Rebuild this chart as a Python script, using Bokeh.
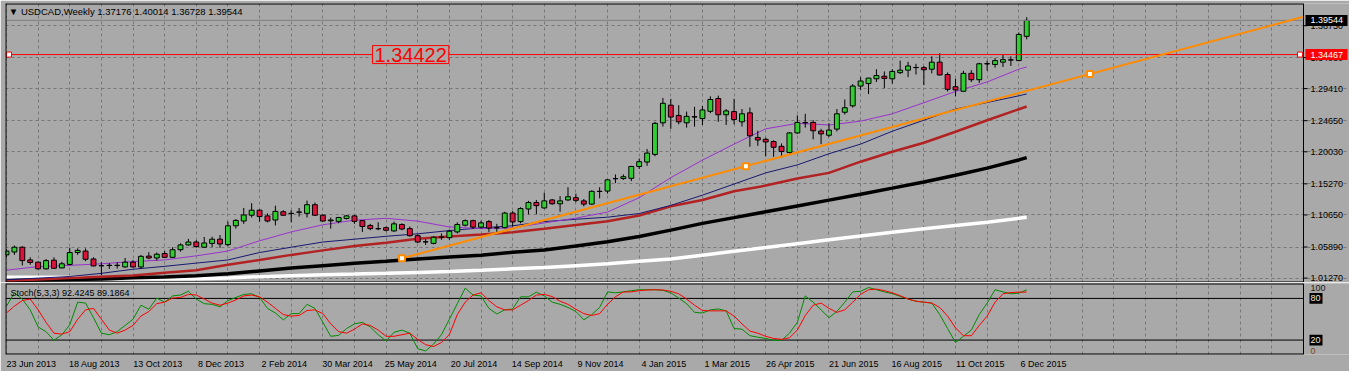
from bokeh.plotting import figure
from bokeh.models import Range1d, FixedTicker, Label, ColumnDataSource
from bokeh.layouts import column
from bokeh.embed import file_html
from bokeh.resources import INLINE
from bokeh.core.properties import value

# ---------------- data ----------------
opens = [1.0472,1.0515,1.0586,1.0397,1.0364,1.0265,1.0393,1.0279,1.0330,1.0507,
         1.0529,1.0411,1.0310,1.0314,1.0318,1.0293,1.0364,1.0293,1.0454,1.0426,
         1.0492,1.0436,1.0549,1.0620,1.0663,1.0586,1.0643,1.0705,1.0624,1.0904,
         1.0975,1.1061,1.1136,1.1051,1.0990,1.1112,1.1087,1.1106,1.1089,1.1217,
         1.1061,1.0978,1.0970,1.1012,1.1051,1.0980,1.0909,1.0860,1.0876,1.0828,
         1.0923,1.0862,1.0757,1.0665,1.0643,1.0734,1.0728,1.0813,1.0913,1.0980,
         1.0884,1.0966,1.0872,1.0876,1.1093,1.0966,1.1154,1.1250,1.1169,1.1288,
         1.1231,1.1288,1.1321,1.1274,1.1226,1.1414,1.1420,1.1603,1.1605,1.1609,
         1.1785,1.1851,1.1964,1.2433,1.2695,1.2543,1.2433,1.2524,1.2496,1.2604,
         1.2794,1.2553,1.2600,1.2448,1.2581,1.2216,1.2188,1.2155,1.2084,1.1993,
         1.2283,1.2437,1.2439,1.2311,1.2249,1.2340,1.2590,1.2685,1.2979,1.3016,
         1.3087,1.3125,1.3087,1.3178,1.3215,1.3255,1.3253,1.3229,1.3334,1.3150,
         1.2969,1.2902,1.3168,1.3073,1.3308,1.3300,1.3334,1.3369,1.3357,1.37176]
highs = [1.0553,1.0610,1.0600,1.0436,1.0373,1.0411,1.0436,1.0369,1.0578,1.0568,
         1.0568,1.0436,1.0364,1.0350,1.0364,1.0426,1.0397,1.0472,1.0511,1.0507,
         1.0529,1.0586,1.0643,1.0710,1.0691,1.0738,1.0742,1.0767,1.0966,1.1004,
         1.1169,1.1240,1.1146,1.1089,1.1203,1.1136,1.1136,1.1169,1.1278,1.1250,
         1.1075,1.1027,1.1037,1.1065,1.1065,1.0990,1.0933,1.0956,1.0894,1.0966,
         1.0941,1.0894,1.0777,1.0705,1.0752,1.0791,1.0848,1.0956,1.0998,1.0994,
         1.0980,1.0990,1.0933,1.1112,1.1122,1.1179,1.1274,1.1288,1.1396,1.1302,
         1.1345,1.1477,1.1382,1.1302,1.1430,1.1477,1.1595,1.1666,1.1666,1.1794,
         1.1903,1.2045,1.2448,1.2803,1.2789,1.2695,1.2600,1.2671,1.2685,1.2827,
         1.2837,1.2638,1.2789,1.2638,1.2661,1.2315,1.2212,1.2173,1.2127,1.2297,
         1.2543,1.2567,1.2472,1.2344,1.2425,1.2638,1.2780,1.3008,1.3111,1.3101,
         1.3229,1.3196,1.3229,1.3357,1.3339,1.3310,1.3277,1.3420,1.3466,1.3182,
         1.3087,1.3206,1.3215,1.3324,1.3357,1.3395,1.3442,1.3420,1.3775,1.40014]
lows = [1.0440,1.0472,1.0316,1.0326,1.0255,1.0255,1.0269,1.0273,1.0316,1.0472,
        1.0379,1.0302,1.0174,1.0265,1.0269,1.0283,1.0283,1.0265,1.0407,1.0387,
        1.0426,1.0426,1.0521,1.0610,1.0578,1.0578,1.0586,1.0578,1.0600,1.0862,
        1.0933,1.1027,1.0966,1.0956,1.0909,1.1051,1.0956,1.1041,1.1027,1.1051,
        1.0966,1.0862,1.0941,1.0998,1.0933,1.0813,1.0838,1.0838,1.0819,1.0813,
        1.0838,1.0742,1.0649,1.0620,1.0629,1.0696,1.0696,1.0791,1.0894,1.0856,
        1.0862,1.0813,1.0809,1.0866,1.0894,1.0941,1.1075,1.1075,1.1160,1.1217,
        1.1112,1.1274,1.1254,1.1193,1.1217,1.1311,1.1382,1.1538,1.1586,1.1567,
        1.1747,1.1794,1.1936,1.2377,1.2344,1.2411,1.2362,1.2377,1.2401,1.2576,
        1.2448,1.2401,1.2411,1.2377,1.2078,1.2092,1.1936,1.1928,1.1918,1.1974,
        1.2269,1.2362,1.2188,1.2117,1.2220,1.2306,1.2557,1.2661,1.2922,1.2860,
        1.3040,1.2945,1.3016,1.3158,1.3111,1.3150,1.2993,1.3168,1.3135,1.2898,
        1.2827,1.2898,1.3040,1.3026,1.3206,1.3253,1.3263,1.3277,1.3349,1.36728]
closes = [1.0529,1.0586,1.0387,1.0359,1.0265,1.0387,1.0273,1.0340,1.0507,1.0539,
          1.0407,1.0308,1.0312,1.0318,1.0314,1.0364,1.0293,1.0450,1.0426,1.0482,
          1.0436,1.0549,1.0620,1.0663,1.0596,1.0649,1.0705,1.0634,1.0904,1.0984,
          1.1065,1.1136,1.1041,1.0975,1.1118,1.1061,1.1089,1.1108,1.1217,1.1061,
          1.0975,1.0990,1.1027,1.1051,1.0970,1.0894,1.0862,1.0862,1.0838,1.0933,
          1.0856,1.0757,1.0663,1.0667,1.0734,1.0736,1.0823,1.0923,1.0980,1.0884,
          1.0947,1.0870,1.0876,1.1093,1.0961,1.1160,1.1250,1.1203,1.1274,1.1231,
          1.1274,1.1335,1.1282,1.1226,1.1416,1.1416,1.1586,1.1605,1.1633,1.1785,
          1.1856,1.1984,1.2425,1.2723,1.2519,1.2448,1.2529,1.2519,1.2624,1.2780,
          1.2553,1.2610,1.2482,1.2567,1.2240,1.2178,1.2149,1.2070,1.2007,1.2283,
          1.2439,1.2433,1.2315,1.2269,1.2325,1.2567,1.2657,1.2979,1.3054,1.3097,
          1.3135,1.3093,1.3196,1.3215,1.3277,1.3253,1.3221,1.3334,1.3144,1.2931,
          1.2922,1.3168,1.3073,1.3310,1.3312,1.3357,1.3371,1.3365,1.3745,1.39544]

# moving averages sampled every 4 weeks (week index)
ma_idx = [0,4,8,12,16,20,24,28,32,36,40,44,48,52,56,60,64,68,72,76,80,84,88,92,
          96,100,104,108,112,116,120,124,128,129]
ma_purple = [1.0245,1.0298,1.0316,1.0340,1.0373,1.0397,1.0458,1.0529,1.0681,1.0813,
             1.0919,1.0987,1.1015,1.0973,1.0887,1.0862,1.0873,1.0947,1.1018,1.1108,
             1.1321,1.1619,1.1879,1.2117,1.2344,1.2425,1.2401,1.2458,1.2567,1.2732,
             1.2898,1.3040,1.3229,1.3263]
ma_navy = [1.0103,1.0127,1.0151,1.0198,1.0259,1.0302,1.0350,1.0397,1.0507,1.0586,
           1.0663,1.0705,1.0748,1.0785,1.0833,1.0873,1.0904,1.0966,1.1001,1.1032,
           1.1086,1.1207,1.1359,1.1524,1.1690,1.1808,1.1974,1.2117,1.2308,1.2472,
           1.2638,1.2735,1.2834,1.2862]
ma_red = [1.0085,1.0106,1.0127,1.0148,1.0166,1.0208,1.0245,1.0326,1.0397,1.0472,
          1.0539,1.0603,1.0653,1.0710,1.0745,1.0774,1.0809,1.0859,1.0916,1.0973,
          1.1058,1.1193,1.1288,1.1416,1.1501,1.1605,1.1690,1.1856,1.2003,1.2138,
          1.2301,1.2472,1.2635,1.2675]
ma_black = [1.0092,1.0099,1.0106,1.0113,1.0134,1.0144,1.0163,1.0191,1.0234,1.0276,
            1.0312,1.0347,1.0376,1.0411,1.0440,1.0468,1.0511,1.0546,1.0603,1.0667,
            1.0745,1.0840,1.0940,1.1025,1.1112,1.1199,1.1285,1.1372,1.1463,1.1555,
            1.1655,1.1761,1.1882,1.1917]
ma_white = [1.0141,1.0141,1.0137,1.0120,1.0113,1.0113,1.0117,1.0127,1.0148,1.0163,
            1.0177,1.0187,1.0198,1.0212,1.0226,1.0245,1.0265,1.0283,1.0312,1.0340,
            1.0376,1.0411,1.0468,1.0525,1.0582,1.0639,1.0696,1.0752,1.0809,1.0859,
            1.0909,1.0958,1.1015,1.1030]

stoch_k = [68.8,88.0,79.0,63.5,38.9,32.1,19.6,27.7,42.0,74.6,
           73.3,52.3,29.9,27.7,32.1,41.1,50.0,70.2,64.4,80.5,
           74.6,83.6,84.9,90.3,79.1,72.4,71.5,67.9,76.9,81.4,
           85.8,86.7,81.4,65.7,59.0,49.1,58.1,58.1,71.5,65.7,
           45.6,25.4,26.8,36.6,43.3,45.6,38.9,27.7,18.7,31.2,
           34.4,29.9,7.5,4.4,14.2,27.7,50.0,72.4,94.8,84.9,
           83.6,65.7,57.6,63.5,64.8,82.3,82.3,89.0,83.6,74.6,
           71.5,67.0,61.2,49.1,56.7,67.0,89.4,88.1,89.4,91.2,
           92.5,92.5,92.5,91.6,88.1,80.5,72.4,59.9,59.0,63.5,
           64.8,62.1,36.6,35.7,26.3,24.1,22.3,19.6,19.6,29.9,
           45.6,83.6,74.6,63.5,52.3,61.2,74.6,89.4,90.3,95.7,
           92.5,89.4,87.0,83.0,79.1,76.0,74.6,73.3,56.7,36.6,
           16.5,25.4,34.4,56.7,73.3,92.5,89.4,86.7,87.6,92.4245]
stoch_d = [59.0,68.8,76.9,79.1,63.5,45.6,29.9,28.6,32.1,50.0,
           63.5,65.7,50.0,34.4,29.9,34.4,41.1,54.5,61.2,72.4,
           74.6,80.5,81.4,85.8,84.9,79.1,73.3,70.2,73.3,77.8,
           83.6,84.9,82.3,74.6,65.7,56.7,54.5,55.4,62.6,63.5,
           58.1,43.3,32.1,29.9,35.7,43.3,41.1,34.4,25.4,25.4,
           27.7,29.9,21.0,13.3,10.7,16.5,28.0,56.7,74.6,84.9,
           88.1,76.9,67.9,63.5,63.5,70.2,76.9,84.9,85.8,82.7,
           76.0,71.5,64.4,58.1,55.4,58.1,71.5,82.3,89.4,89.4,
           91.2,92.1,92.5,92.1,90.3,86.7,79.1,70.2,62.6,62.1,
           62.1,62.1,54.5,43.3,33.0,29.9,25.4,22.3,21.0,23.2,
           34.4,55.4,70.2,73.3,65.7,59.9,63.5,74.6,85.8,92.5,
           93.4,91.2,88.0,84.0,79.1,76.0,74.6,73.3,67.0,54.5,
           37.5,26.3,26.3,41.1,54.5,74.6,86.7,88.5,89.0,89.1864]

date_idx = [0,8,16,24,32,40,48,56,64,72,80,88,96,104,112,120,128]
date_labels = ["23 Jun 2013","18 Aug 2013","13 Oct 2013","8 Dec 2013","2 Feb 2014",
               "30 Mar 2014","25 May 2014","20 Jul 2014","14 Sep 2014","9 Nov 2014",
               "4 Jan 2015","1 Mar 2015","26 Apr 2015","21 Jun 2015","16 Aug 2015",
               "11 Oct 2015","6 Dec 2015"]
price_ticks = [1.0127,1.0589,1.1065,1.1527,1.2003,1.2465,1.2941,1.3403,1.3875]
stoch_levels = [20, 80]
stoch_axis_vals = [100, 80, 20, 0]

hline_price = 1.34467
text_price = "1.34422"
text_idx = 51.1
trend_idx = [50, 137]
trend_price = [1.0421, 1.3158]

# ---------------- layout constants ----------------
BG = "#a9a9a9"
GRID = "#777777"
FONT = "Liberation Sans"
W = 1349
LEFT = 5
CHART_W = 1298           # plotting area width; remaining strip holds the price scale
X0, X1 = -0.125, 164.0
XE = X0 + (X1 - X0) * (W - LEFT) / CHART_W
PPI = CHART_W / (X1 - X0)  # pixels per week

YB, YT = 1.0062, 1.4205
MAIN_H, MAIN_TOP = 282, 3
YPP = (YT - YB) / (MAIN_H - MAIN_TOP)
SB, ST = -0.8, 101.5
ST_H, ST_TOP, ST_BOT = 89, 1, 16
SPP = (ST - SB) / (ST_H - ST_TOP - ST_BOT)


def border(fig, yb, yt):
    fig.line([X0, X1], [yt, yt], line_color="black", line_width=2)
    fig.line([X0, X1], [yb, yb], line_color="black", line_width=2)
    fig.line([X0, X0], [yb, yt], line_color="black", line_width=2)
    fig.line([X1, X1], [yb, yt], line_color="black", line_width=1)


def lab(**kw):
    try:
        return Label(**kw)
    except AttributeError:
        kw.pop("padding", None)
        return Label(**kw)

# ---------------- main price panel ----------------
p = figure(width=W, height=MAIN_H, output_backend="svg", toolbar_location=None,
           x_range=Range1d(X0, XE), y_range=Range1d(YB, YT),
           x_axis_location=None, y_axis_location=None,
           min_border_left=LEFT, min_border_right=0, min_border_top=MAIN_TOP,
           min_border_bottom=0, background_fill_color=BG, border_fill_color=BG,
           outline_line_color=None)
p.xgrid.ticker = FixedTicker(ticks=list(range(0, 165, 4)))
p.ygrid.ticker = FixedTicker(ticks=price_ticks)
p.ygrid.bounds = (X0, X1)
for g in (p.xgrid, p.ygrid):
    g.grid_line_color = GRID
    g.grid_line_dash = "3 3"
    g.grid_line_width = 1

idx = list(range(len(opens)))
src = ColumnDataSource(dict(
    x=idx, o=opens, h=highs, l=lows, c=closes,
    top=[max(a, b) for a, b in zip(opens, closes)],
    bot=[min(a, b) for a, b in zip(opens, closes)],
    col=["#32cd32" if c >= o else "#dc143c" for o, c in zip(opens, closes)],
))

# moving averages
p.line(ma_idx, ma_white, line_color="white", line_width=3.5)
p.line(ma_idx, ma_black, line_color="black", line_width=3.5)
p.line(ma_idx, ma_red, line_color="#b22222", line_width=2.5)
p.line(ma_idx, ma_navy, line_color="#191970", line_width=1)
p.line(ma_idx, ma_purple, line_color="#9932cc", line_width=1)

# candles
p.segment(x0="x", y0="l", x1="x", y1="h", source=src, line_color="black", line_width=1)
p.vbar(x="x", top="top", bottom="bot", width=0.62, source=src,
       fill_color="col", line_color="black", line_width=1)

# bid line and horizontal line object
p.line([X0, X1], [closes[-1], closes[-1]], line_color="#7f7f7f", line_width=1)
p.line([X0, X1], [hline_price, hline_price], line_color="#ff0000", line_width=1)

# trend line (ray to the right edge of the chart)
slope = (trend_price[1] - trend_price[0]) / (trend_idx[1] - trend_idx[0])
p.line([trend_idx[0], X1], [trend_price[0], trend_price[0] + slope * (X1 - trend_idx[0])],
       line_color="#ff8c00", line_width=2)
mid_i = (trend_idx[0] + trend_idx[1]) / 2
mid_p = (trend_price[0] + trend_price[1]) / 2
p.scatter([trend_idx[0], mid_i, trend_idx[1]], [trend_price[0], mid_p, trend_price[1]],
          marker="square", size=6, fill_color="white", line_color="#ff8c00", line_width=2)
p.scatter([X0 + 3.5 / PPI, X1 - 3.5 / PPI], [hline_price, hline_price], marker="square",
          size=5, fill_color="white", line_color="#ff0000", line_width=1)

border(p, YB, YT)

# price scale (right strip)
p.segment(x0=[X1] * len(price_ticks), x1=[X1 + 4 / PPI] * len(price_ticks),
          y0=price_ticks, y1=price_ticks, line_color="black", line_width=1)
p.text(x=[X1] * len(price_ticks), y=price_ticks, text=["%.5f" % v for v in price_ticks],
       x_offset=7, text_baseline="middle", text_align="left", text_color="black",
       text_font=value(FONT), text_font_size="9px")
for price, fill in ((closes[-1], "black"), (hline_price, "#ff0000")):
    p.hbar(y=[price], left=[X1 + 2 / PPI], right=[X1 + 44 / PPI], height=11 * YPP,
           fill_color=fill, line_color=None)
    p.text(x=[X1], y=[price], text=["%.5f" % price], x_offset=7, text_baseline="middle",
           text_align="left", text_color="white", text_font=value(FONT),
           text_font_size="9px")

p.add_layout(lab(x=text_idx, y=hline_price, text=text_price, text_align="center",
                 text_baseline="middle", text_color="#ff0000", text_font_size="20px",
                 text_font=FONT, background_fill_color=BG, border_line_color="#ff0000",
                 border_line_width=1, padding=2))
p.add_layout(lab(x=0.3, y=YT - 8 * YPP,
                 text="\u25bc USDCAD,Weekly  1.37176 1.40014 1.36728 1.39544",
                 text_baseline="middle", text_font=FONT, text_font_size="9.5px",
                 text_color="black"))

# ---------------- stochastic panel ----------------
s = figure(width=W, height=ST_H, output_backend="svg", toolbar_location=None,
           x_range=p.x_range, y_range=Range1d(SB, ST), y_axis_location=None,
           min_border_left=LEFT, min_border_right=0, min_border_top=ST_TOP,
           min_border_bottom=ST_BOT, background_fill_color=BG, border_fill_color=BG,
           outline_line_color=None)
s.xgrid.ticker = FixedTicker(ticks=list(range(0, 165, 4)))
s.xgrid.grid_line_color = GRID
s.xgrid.grid_line_dash = "3 3"
s.ygrid.visible = False

LBL_OFF = 3.125  # MetaTrader writes each date to the right of its tick
s.xaxis.ticker = FixedTicker(ticks=[i + LBL_OFF for i in date_idx])
s.xaxis.major_label_overrides = {i + LBL_OFF: t for i, t in zip(date_idx, date_labels)}
s.xaxis.axis_line_color = None
s.xaxis.major_tick_line_color = None
s.xaxis.major_tick_out = 3
s.xaxis.major_tick_in = 0
s.xaxis.minor_tick_line_color = None
s.xaxis.major_label_standoff = 1
s.xaxis.major_label_text_font = FONT
s.xaxis.major_label_text_font_size = "9px"
s.xaxis.major_label_text_color = "black"

for lv in stoch_levels:
    s.line([X0, X1], [lv, lv], line_color="black", line_width=1)
s.line(idx, stoch_k, line_color="#008c00", line_width=1)
s.line(idx, stoch_d, line_color="#ff0000", line_width=1)
border(s, SB, ST)

s.add_layout(lab(x=0.5, y=ST - 10 * SPP, text="Stoch(5,3,3) 92.4245 89.1864",
                 text_baseline="middle", text_font=FONT, text_font_size="9px",
                 text_color="black"))

# stochastic scale (right strip): 100 and 0 sit just inside the panel
for v in stoch_axis_vals:
    if v in stoch_levels:
        s.hbar(y=[v], left=[X1 + 6 / PPI], right=[X1 + 19 / PPI], height=11 * SPP,
               fill_color="black", line_color=None)
        s.text(x=[X1], y=[v], text=[str(v)], x_offset=7, text_baseline="middle",
               text_color="#f2ecd8", text_font=value(FONT), text_font_size="9px")
    else:
        s.text(x=[X1], y=[v], text=[str(v)], x_offset=7,
               text_baseline="top" if v == 100 else "bottom",
               text_color="#1a1a1a" if v == 100 else "#7a4a1a",
               text_font=value(FONT), text_font_size="9px")

layout = column(p, s, spacing=0)
html = file_html(layout, INLINE, title="USDCAD,Weekly")
html = html.replace("<body>", '<body style="background-color:%s;">' % BG, 1)
open("out.html", "w").write(html)
